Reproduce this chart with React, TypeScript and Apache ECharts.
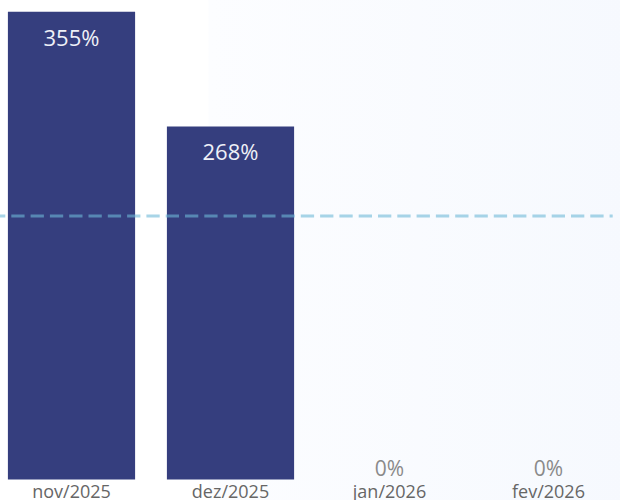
import React, { useEffect, useRef } from "react";
import * as echarts from "echarts";

const categories = ["nov/2025", "dez/2025", "jan/2026", "fev/2026"];
const values = [355, 268, 0, 0];
const target = 200;

const FONT = "'Segoe UI', 'Open Sans', sans-serif";
const SHIFT = 8;
const W = 636;

export default function App() {
  const ref = useRef<HTMLDivElement>(null);
  useEffect(() => {
    if (!ref.current) return;
    const chart = echarts.init(ref.current, null, { renderer: "svg" });
    const f = (px: number) => (px + SHIFT) / W;
    chart.setOption({
      animation: false,
      backgroundColor: {
        type: "linear",
        x: 0,
        y: 0,
        x2: 1,
        y2: 0,
        colorStops: [
          { offset: 0, color: "#ffffff" },
          { offset: f(208), color: "#ffffff" },
          { offset: f(209), color: "#fcfdff" },
          { offset: 1, color: "#f6f9fe" },
        ],
      },
      grid: { left: 0, right: 0, top: 0, bottom: 20.5, containLabel: false },
      xAxis: {
        type: "category",
        data: categories,
        axisLine: { show: false },
        axisTick: { show: false },
        axisLabel: {
          color: "#666666",
          fontSize: 18,
          fontFamily: FONT,
          margin: 2,
        },
      },
      yAxis: {
        type: "value",
        min: 0,
        max: 364,
        show: false,
        splitLine: { show: false },
      },
      series: [
        {
          type: "bar",
          data: values.map((v) => ({
            value: v,
            label:
              v > 0
                ? {
                    position: "insideTop",
                    distance: 14,
                    fontSize: 22,
                    color: "#eef0f7",
                  }
                : {
                    position: "top",
                    distance: 1,
                    fontSize: 21,
                    color: "#8a8a8a",
                  },
          })),
          barWidth: "80%",
          itemStyle: { color: "#353e7e" },
          label: {
            show: true,
            fontFamily: FONT,
            formatter: (p: any) => `${p.value}%`,
          },
        },
      ],
    });
    const y = chart.convertToPixel({ yAxisIndex: 0 }, target) as number;
    chart.setOption({
      graphic: [
        {
          type: "line",
          z: 100,
          shape: { x1: 0, y1: y, x2: 612.7 + SHIFT, y2: y },
          style: {
            stroke: "rgba(110,185,215,0.6)",
            lineWidth: 3,
            lineDash: [13.3, 6],
          },
        },
      ],
    });
    return () => chart.dispose();
  }, []);
  return (
    <div
      style={{
        position: "absolute",
        left: 0,
        top: 0,
        width: 620,
        height: 500,
        overflow: "hidden",
      }}
    >
      <div
        ref={ref}
        style={{ position: "absolute", left: -SHIFT, top: 0, width: W, height: 500 }}
      />
    </div>
  );
}
